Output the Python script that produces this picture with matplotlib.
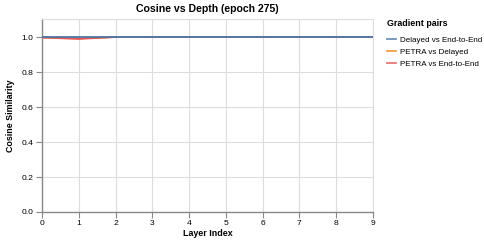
import matplotlib
matplotlib.use("Agg")
import matplotlib.pyplot as plt
from matplotlib.lines import Line2D

layers = [0, 1, 2, 3, 4, 5, 6, 7, 8, 9]
delayed_vs_e2e = [1.0, 1.0, 1.0, 1.0, 1.0, 1.0, 1.0, 1.0, 1.0, 1.0]
petra_vs_delayed = [0.998, 0.992, 1.0, 1.0, 1.0, 1.0, 1.0, 1.0, 1.0, 1.0]
petra_vs_e2e = [0.997, 0.989, 1.0, 1.0, 1.0, 1.0, 1.0, 1.0, 1.0, 1.0]
series_names = ["Delayed vs End-to-End", "PETRA vs Delayed", "PETRA vs End-to-End"]
colors = ["#4c78a8", "#f58518", "#e45756"]
xticks = list(range(10))
yticks = [0.0, 0.2, 0.4, 0.6, 0.8, 1.0]

px = 0.58
plt.rcParams['font.family'] = ['Liberation Sans', 'DejaVu Sans']
fig = plt.figure(figsize=(4.84, 2.41), dpi=100)
ax = fig.add_axes([42/484, 1-212/241, (373-42)/484, (212-19)/241])

ax.plot(layers, petra_vs_delayed, color=colors[1], lw=1.3, zorder=3)
ax.plot(layers, petra_vs_e2e, color=colors[2], lw=1.3, zorder=4)
ax.plot(layers, delayed_vs_e2e, color=colors[0], lw=1.3, zorder=5)

ax.set_xlim(0, 9)
ax.set_ylim(0, 1.103)
ax.set_xticks(xticks)
ax.set_yticks(yticks)
ax.set_xticklabels([str(t) for t in xticks])
ax.set_yticklabels([f"{t:.1f}" for t in yticks])
ax.grid(True, color="#dddddd", lw=0.8)
ax.set_axisbelow(True)
for s in ["top", "right"]:
    ax.spines[s].set_color("#dddddd")
    ax.spines[s].set_linewidth(0.8)
for s in ["left", "bottom"]:
    ax.spines[s].set_color("#888888")
    ax.spines[s].set_linewidth(1.0)
ax.tick_params(colors="#888888", length=4, width=0.8, labelsize=10.5*px, labelcolor="#000000", pad=2)

ax.set_xlabel("Layer Index", fontsize=11*px, fontweight="bold", labelpad=1.5)
ax.set_ylabel("Cosine Similarity", fontsize=11*px, fontweight="bold", labelpad=5)
fig.text(207/484, 1-9/241, "Cosine vs Depth (epoch 275)", fontsize=13*px, fontweight="bold",
         ha="center", va="center")

handles = [Line2D([0], [0], color=c, lw=1.3, alpha=0.8) for c in colors]
leg = fig.legend(handles, series_names, loc="upper left", bbox_to_anchor=(385/484, 1-17/241),
                 frameon=False, fontsize=10*px, title="Gradient pairs",
                 title_fontproperties={"weight": "bold", "size": 11*px},
                 handlelength=1.2, handletextpad=0.5, labelspacing=0.55, borderpad=0.2,
                 borderaxespad=0)
leg._legend_box.align = "left"
leg._legend_box.sep = 6

fig.savefig("out.png", dpi=100)
